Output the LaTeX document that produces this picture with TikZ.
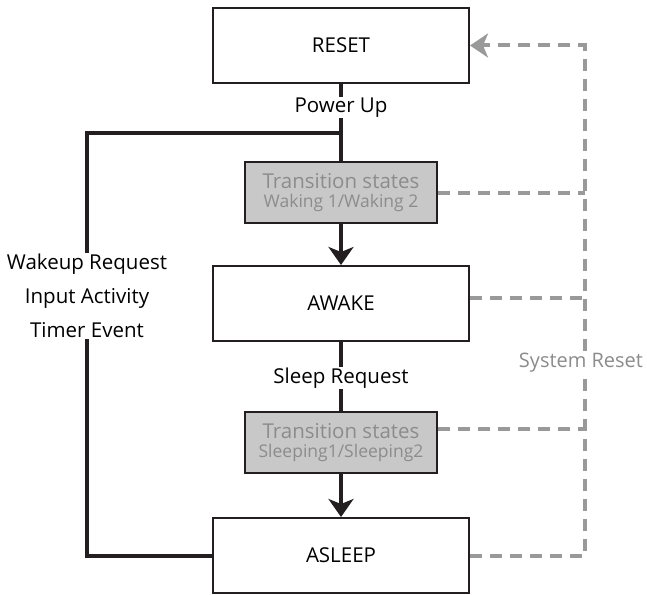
\documentclass[tikz,border=0pt]{standalone}
\usepackage{fontspec}
\setmainfont{Open Sans}
\usepackage{tikz}
\usetikzlibrary{arrows.meta, positioning, calc}
\definecolor{inkblack}{RGB}{35,31,32}
\definecolor{boxgray}{RGB}{200,200,200}
\definecolor{textgray}{RGB}{140,140,140}
\definecolor{resetgray}{RGB}{153,153,153}

\begin{document}
\begin{tikzpicture}[
    state/.style={rectangle, draw=inkblack, line width=2pt,
                  minimum width=256pt, minimum height=75pt, fill=white,
                  font=\fontsize{20.5}{24}\selectfont},
    transit/.style={rectangle, draw=inkblack, line width=2pt,
                    minimum width=192pt, minimum height=61pt, fill=boxgray,
                    text=textgray, align=center, inner sep=0pt,
                    font=\fontsize{20.5}{19}\selectfont},
    wire/.style={line width=4pt, draw=inkblack},
    flow/.style={wire, -{Stealth[length=18pt, width=25pt, inset=5pt]}},
    resetline/.style={line width=4pt, draw=resetgray, dash pattern=on 12pt off 8pt},
    lbl/.style={fill=white, inner sep=1pt, font=\fontsize{20.5}{34}\selectfont}
]
    \useasboundingbox (0,0) rectangle (647pt,-594pt);

    % State nodes
    \node[state] (reset) at (341pt,-45.5pt) {RESET};
    \node[transit, below=77pt of reset] (waking)
        {Transition states\\{\fontsize{17.5}{19}\selectfont Waking 1/Waking 2}};
    \node[state, below=41pt of waking] (awake) {AWAKE};
    \node[transit, below=69pt of awake] (sleeping)
        {Transition states\\{\fontsize{17.5}{19}\selectfont Sleeping1/Sleeping2}};
    \node[state, below=43pt of sleeping] (asleep) {ASLEEP};
    \coordinate (rail) at ($(reset.east)+(115pt,0)$);

    % Main flow
    \draw[wire] (reset) -- (waking)
        node[lbl, pos=0.306] (powerup) {Power Up}
        coordinate[pos=0.636] (junc);
    \draw[flow] (waking) -- (awake);
    \draw[wire] (awake) -- (sleeping)
        node[lbl, pos=0.52] (sleepreq) {Sleep Request};
    \draw[flow] (sleeping) -- (asleep);

    % Wakeup loop
    \draw[wire] (junc) -- ++(-254pt,0) |-
        node[lbl, pos=0.193, align=center] (events)
        {Wakeup Request\\Input Activity\\Timer Event} (asleep.west);

    % System reset
    \draw[resetline] (waking.east) -- (waking.east -| rail);
    \draw[resetline] ([yshift=5.5pt]awake.east) -- ([yshift=5.5pt]awake.east -| rail);
    \draw[resetline] ([yshift=13.5pt]sleeping.east) -- ([yshift=13.5pt]sleeping.east -| rail);
    \draw[resetline, -{Stealth[length=18pt, width=24pt, inset=5pt]}]
        (asleep.east) -| node[lbl, text=textgray, pos=0.689, xshift=-4pt,
                              font=\fontsize{20}{24}\selectfont] (sysreset) {System Reset}
        (rail) -- (reset.east);

\end{tikzpicture}
\end{document}
